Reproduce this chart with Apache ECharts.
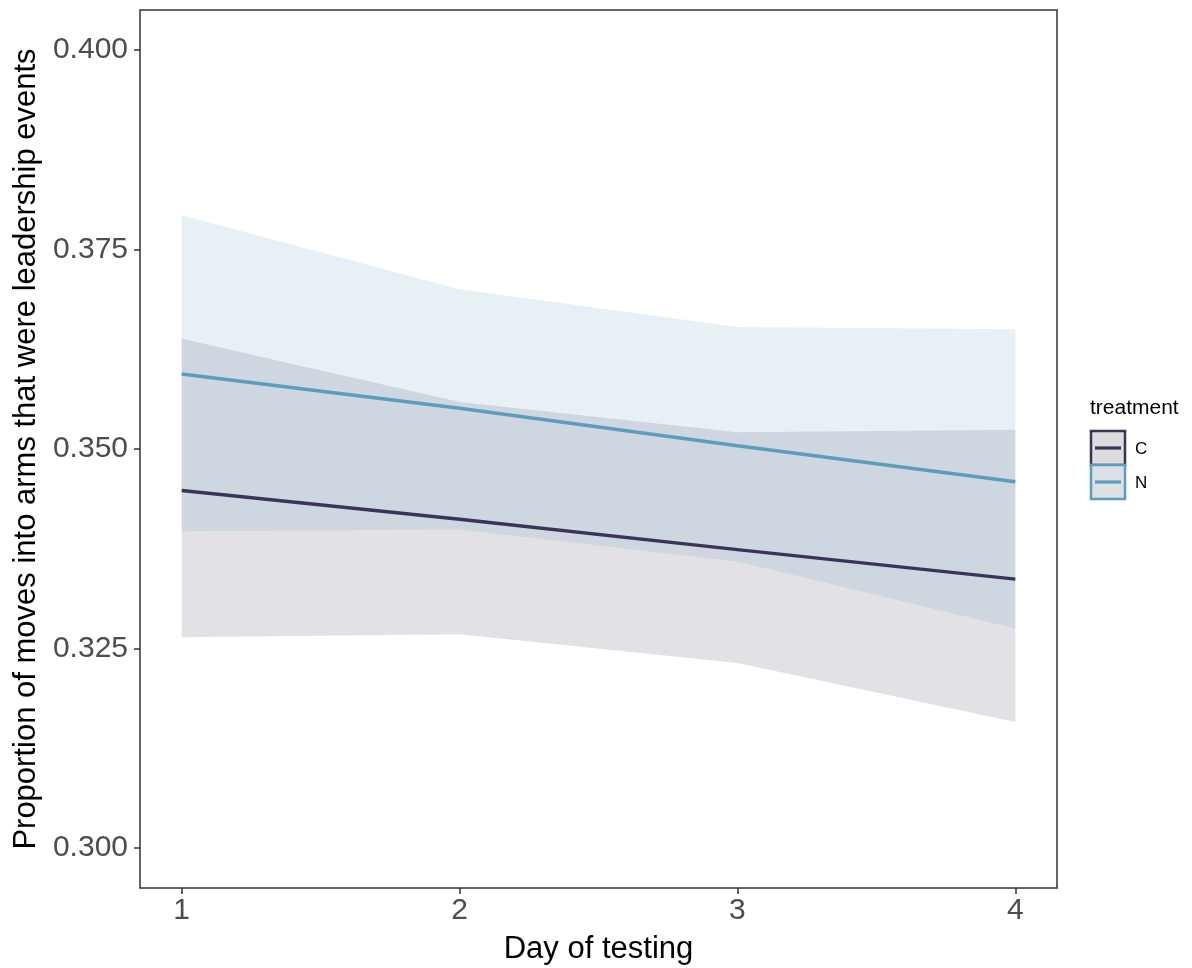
<!DOCTYPE html>
<html>
<head>
<meta charset="utf-8">
<script src="https://cdn.jsdelivr.net/npm/echarts@6/dist/echarts.min.js"></script>
<style>
  html, body { margin: 0; padding: 0; background: #ffffff; }
  #chart { width: 1192px; height: 968px; }
</style>
</head>
<body>
<div id="chart"></div>
<script>
// Day of testing
const days = [1, 2, 3, 4];

// Treatment C: fitted proportion and confidence band
const cFit   = [0.3448, 0.3412, 0.3374, 0.3337];
const cLower = [0.3264, 0.3268, 0.3232, 0.3158];
const cUpper = [0.3638, 0.3559, 0.3521, 0.3524];

// Treatment N: fitted proportion and confidence band
const nFit   = [0.3594, 0.3551, 0.3504, 0.3459];
const nLower = [0.3397, 0.3399, 0.3359, 0.3275];
const nUpper = [0.3793, 0.3700, 0.3653, 0.3650];

const yTicks = [0.300, 0.325, 0.350, 0.375, 0.400];
const xTicks = [1, 2, 3, 4];

const colC = '#3b3458';
const colN = '#5b9dbf';
const FONT = 'Liberation Sans, Arial, Helvetica, sans-serif';

const pairs = (ys) => days.map((d, i) => [d, ys[i]]);

// Ribbon between lower and upper bounds, drawn as one polygon in data coordinates
function bandSeries(name, lo, hi, color) {
  return {
    name: name + ' band', type: 'custom', silent: true, z: 1,
    data: days.map((d, i) => [d, lo[i], hi[i]]),
    encode: { x: 0, y: [1, 2] },
    renderItem: function (params, api) {
      if (params.dataIndex !== 0) return null;
      const top = days.map((d, i) => api.coord([d, hi[i]]));
      const bottom = days.map((d, i) => api.coord([d, lo[i]])).reverse();
      return {
        type: 'polygon',
        shape: { points: top.concat(bottom) },
        style: { fill: color, opacity: 0.15 }
      };
    }
  };
}

const chart = echarts.init(document.getElementById('chart'), null, { renderer: 'canvas' });

chart.setOption({
  animation: false,
  backgroundColor: '#ffffff',
  grid: {
    left: 140, top: 10, right: 135, bottom: 80,
    containLabel: false, outerBoundsMode: 'none',
    show: true, borderColor: '#333333', borderWidth: 1.5,
    backgroundColor: 'transparent'
  },
  xAxis: {
    type: 'value', min: 0.85, max: 4.15,
    name: 'Day of testing', nameLocation: 'middle', nameGap: 46,
    nameTextStyle: { fontFamily: FONT, fontSize: 31, color: '#000000' },
    axisLine: { show: false },
    splitLine: { show: false },
    axisTick: { show: true, inside: false, length: 6, customValues: xTicks,
      lineStyle: { color: '#333333', width: 1.5 } },
    axisLabel: { customValues: xTicks, fontFamily: FONT, fontSize: 30,
      color: '#4d4d4d', margin: 8, formatter: (v) => String(v) }
  },
  yAxis: {
    type: 'value', min: 0.295, max: 0.405,
    name: 'Proportion of moves into arms that were leadership events',
    nameLocation: 'middle', nameGap: 95, nameRotate: 90,
    nameTextStyle: { fontFamily: FONT, fontSize: 31, color: '#000000' },
    axisLine: { show: false },
    splitLine: { show: false },
    axisTick: { show: true, inside: false, length: 6, customValues: yTicks,
      lineStyle: { color: '#333333', width: 1.5 } },
    axisLabel: { customValues: yTicks, fontFamily: FONT, fontSize: 30,
      color: '#4d4d4d', margin: 12, formatter: (v) => v.toFixed(3) }
  },
  series: [
    bandSeries('C', cLower, cUpper, colC),
    bandSeries('N', nLower, nUpper, colN),
    { name: 'C', type: 'line', data: pairs(cFit), symbol: 'none', z: 5,
      lineStyle: { color: colC, width: 3.4 } },
    { name: 'N', type: 'line', data: pairs(nFit), symbol: 'none', z: 5,
      lineStyle: { color: colN, width: 3.4 } }
  ],
  graphic: [
    // legend for treatment
    { type: 'text', left: 1090, top: 398,
      style: { text: 'treatment', fontFamily: FONT, fontSize: 21, fill: '#000000' } },
    { type: 'rect', shape: { x: 1091, y: 431, width: 34, height: 34 },
      style: { fill: '#dcdcde', stroke: colC, lineWidth: 2.5 } },
    { type: 'line', shape: { x1: 1095, y1: 448, x2: 1121, y2: 448 },
      style: { stroke: colC, lineWidth: 3.2 } },
    { type: 'rect', shape: { x: 1091, y: 465, width: 34, height: 34 },
      style: { fill: '#dde1e4', stroke: colN, lineWidth: 2.5 } },
    { type: 'line', shape: { x1: 1095, y1: 482, x2: 1121, y2: 482 },
      style: { stroke: colN, lineWidth: 3.2 } },
    { type: 'text', left: 1135, top: 441,
      style: { text: 'C', fontFamily: FONT, fontSize: 17, fill: '#000000' } },
    { type: 'text', left: 1135, top: 475,
      style: { text: 'N', fontFamily: FONT, fontSize: 17, fill: '#000000' } }
  ]
});
</script>
</body>
</html>
